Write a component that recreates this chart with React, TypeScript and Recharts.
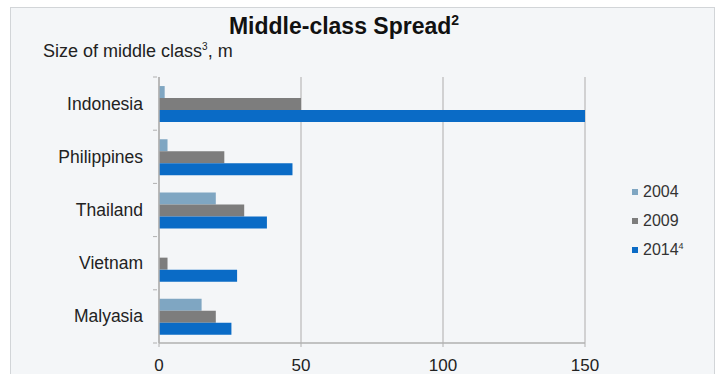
import React from "react";
import { BarChart, Bar, XAxis, YAxis, CartesianGrid } from "recharts";

const countries = ["Indonesia", "Philippines", "Thailand", "Vietnam", "Malyasia"];
const y2004 = [2, 3, 20, 0, 15];
const y2009 = [50, 23, 30, 3, 20];
const y2014 = [150, 47, 38, 27.5, 25.5];
const xTicks = [0, 50, 100, 150];

const series = [
  { key: "y2004", label: "2004", sup: "", color: "#7fa6c2" },
  { key: "y2009", label: "2009", sup: "", color: "#7d7d7d" },
  { key: "y2014", label: "2014", sup: "4", color: "#0a6bc6" },
];

const data = countries.map((name, i) => ({
  name,
  y2004: y2004[i],
  y2009: y2009[i],
  y2014: y2014[i],
}));

const font = "'Liberation Sans', Arial, sans-serif";

const PLOT_TOP = 77;
const PLOT_BOTTOM = 343;
const BAND = (PLOT_BOTTOM - PLOT_TOP) / countries.length;

// category label plus the little separator marks between categories
const CountryTick = ({ x, y, payload, index }: any) => (
  <g>
    <text x={x - 14} y={y} dy={6} textAnchor="end" fill="#222" fontSize={17.5} fontFamily={font}>
      {payload.value}
    </text>
    <line x1={x - 4} x2={x} y1={y - BAND / 2} y2={y - BAND / 2} stroke="#b0b0b0" />
    {index === countries.length - 1 && (
      <line x1={x - 4} x2={x} y1={y + BAND / 2} y2={y + BAND / 2} stroke="#b0b0b0" />
    )}
  </g>
);

export default function App() {
  return (
    <div style={{ position: "absolute", left: 0, top: 0, width: 718, height: 374, background: "#fff", overflow: "hidden" }}>
      <div
        style={{
          position: "absolute",
          left: 10,
          top: 7,
          width: 705,
          height: 380,
          background: "#f4f6f8",
          border: "1px solid #d2d5d8",
          boxSizing: "border-box",
        }}
      />
      <div
        style={{
          position: "absolute",
          left: 0,
          width: 688,
          top: 12,
          textAlign: "center",
          fontFamily: font,
          fontWeight: "bold",
          fontSize: 23,
          lineHeight: "28px",
          color: "#111",
        }}
      >
        Middle-class Spread<sup style={{ fontSize: 14, lineHeight: 0 }}>2</sup>
      </div>
      <div
        style={{
          position: "absolute",
          left: 43,
          top: 40,
          fontFamily: font,
          fontSize: 18,
          lineHeight: "22px",
          letterSpacing: 0,
          color: "#222",
        }}
      >
        Size of middle class<sup style={{ fontSize: 10, lineHeight: 0 }}>3</sup>, m
      </div>
      <div style={{ position: "absolute", left: 0, top: 0 }}>
        <BarChart
          width={718}
          height={374}
          data={data}
          layout="vertical"
          margin={{ top: PLOT_TOP, right: 133, bottom: 1, left: 19 }}
          barCategoryGap="17%"
          barGap={0}
        >
          <CartesianGrid horizontal={false} stroke="#b9b9b9" strokeWidth={1.2} />
          <XAxis
            type="number"
            domain={[0, 150]}
            ticks={xTicks}
            height={30}
            axisLine={{ stroke: "#b0b0b0", strokeWidth: 1.5 }}
            tickLine={{ stroke: "#b0b0b0" }}
            tickSize={4}
            tick={{ fill: "#222", fontSize: 17, fontFamily: font }}
            tickMargin={12}
          />
          <YAxis
            type="category"
            dataKey="name"
            width={140}
            axisLine={{ stroke: "#b0b0b0", strokeWidth: 1.5 }}
            tickLine={false}
            tickSize={0}
            tick={<CountryTick />}
          />
          {series.map((s) => (
            <Bar key={s.key} dataKey={s.key} fill={s.color} isAnimationActive={false} />
          ))}
        </BarChart>
      </div>
      <div style={{ position: "absolute", left: 632, top: 177, fontFamily: font, fontSize: 16, color: "#333" }}>
        {series.map((s) => (
          <div key={s.key} style={{ display: "flex", alignItems: "center", height: 29 }}>
            <span style={{ width: 6, height: 6, background: s.color, marginRight: 5 }} />
            <span>
              {s.label}
              {s.sup && <sup style={{ fontSize: 9, lineHeight: 0 }}>{s.sup}</sup>}
            </span>
          </div>
        ))}
      </div>
    </div>
  );
}
